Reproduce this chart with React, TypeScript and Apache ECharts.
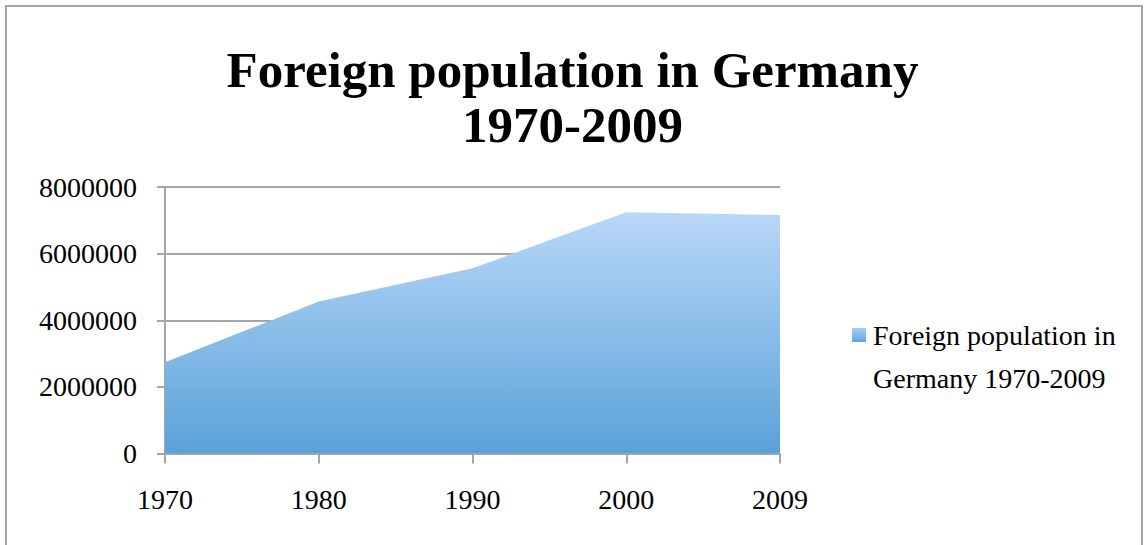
import React, { useEffect, useRef } from "react";
import * as echarts from "echarts";

const chartTitle = "Foreign population in Germany\n1970-2009";
const seriesName = "Foreign population in Germany 1970-2009";
const legendLine1 = "Foreign population in";
const legendLine2 = "Germany 1970-2009";
const years = ["1970", "1980", "1990", "2000", "2009"];
const foreignPopulation = [2740000, 4560000, 5560000, 7240000, 7160000];
const yMin = 0;
const yMax = 8000000;
const yInterval = 2000000;

const FONT = "'Liberation Serif', 'Times New Roman', serif";
const GRID_GRAY = "#a6a6a6";

export default function App() {
  const ref = useRef<HTMLDivElement>(null);

  useEffect(() => {
    if (!ref.current) return;
    const chart = echarts.init(ref.current, null, { renderer: "svg" });
    const areaGradient = new echarts.graphic.LinearGradient(0, 0, 0, 1, [
      { offset: 0, color: "#b9d7f7" },
      { offset: 1, color: "#5aa2da" },
    ]);
    const iconGradient = new echarts.graphic.LinearGradient(0, 0, 0, 1, [
      { offset: 0, color: "#a9cdf3" },
      { offset: 1, color: "#5fa5dc" },
    ]);
    chart.setOption({
      animation: false,
      backgroundColor: "#ffffff",
      textStyle: { fontFamily: FONT },
      title: {
        text: chartTitle,
        left: "center",
        top: 37,
        textStyle: {
          fontFamily: FONT,
          fontWeight: "bold",
          fontSize: 51,
          lineHeight: 55,
          color: "#000000",
        },
      },
      legend: {
        show: true,
        orient: "vertical",
        left: 852,
        top: 270.5,
        padding: 0,
        icon: "rect",
        itemWidth: 14,
        itemHeight: 14,
        itemStyle: { color: iconGradient, borderWidth: 0 },
        formatter: () => `{s| }\n{a|${legendLine1}}\n{a|${legendLine2}}`,
        textStyle: {
          fontFamily: FONT,
          fontSize: 28,
          lineHeight: 43,
          color: "#000000",
          rich: {
            s: { fontFamily: FONT, fontSize: 28, lineHeight: 43 },
            a: { fontFamily: FONT, fontSize: 28, lineHeight: 43, color: "#000000", padding: [0, 0, 0, 2] },
          },
        },
        data: [seriesName],
      },
      grid: {
        left: 165,
        right: 365,
        top: 187,
        bottom: 91.5,
        containLabel: false,
      },
      xAxis: {
        type: "category",
        data: years,
        boundaryGap: false,
        axisLine: { show: true, lineStyle: { color: GRID_GRAY, width: 2 } },
        axisTick: {
          show: true,
          length: 10,
          lineStyle: { color: GRID_GRAY, width: 2 },
        },
        axisLabel: {
          margin: 32,
          fontFamily: FONT,
          fontSize: 28,
          color: "#000000",
        },
        splitLine: { show: false },
      },
      yAxis: {
        type: "value",
        min: yMin,
        max: yMax,
        interval: yInterval,
        axisLine: { show: true, lineStyle: { color: GRID_GRAY, width: 2 } },
        axisTick: {
          show: true,
          length: 8,
          lineStyle: { color: GRID_GRAY, width: 2 },
        },
        axisLabel: {
          margin: 28,
          fontFamily: FONT,
          fontSize: 28,
          color: "#000000",
          formatter: (v: number) => String(v),
        },
        splitLine: { show: true, lineStyle: { color: GRID_GRAY, width: 2 } },
      },
      series: [
        {
          name: seriesName,
          type: "line",
          data: foreignPopulation,
          symbol: "none",
          smooth: false,
          lineStyle: { width: 0 },
          itemStyle: { color: "#5aa2da" },
          areaStyle: { color: areaGradient, opacity: 1 },
          z: 3,
        },
      ],
      graphic: [
        {
          type: "rect",
          shape: { x: 6, y: 6, width: 1136, height: 600 },
          style: { fill: "none", stroke: GRID_GRAY, lineWidth: 2 },
          silent: true,
          z: 100,
        },
      ],
    });
    return () => chart.dispose();
  }, []);

  return (
    <div
      ref={ref}
      style={{ position: "fixed", left: 0, top: 0, width: 1145, height: 545 }}
    />
  );
}
